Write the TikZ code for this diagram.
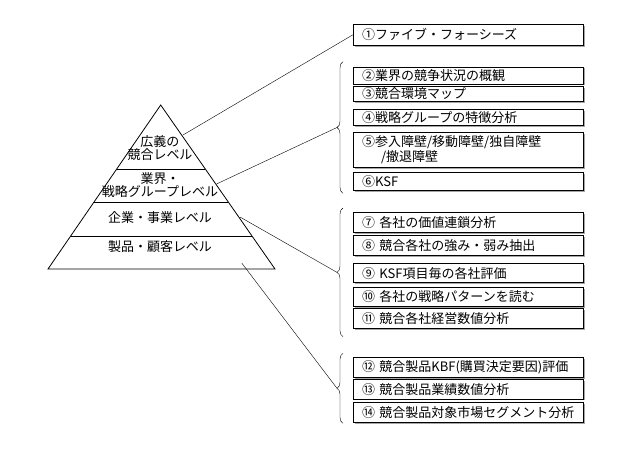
\documentclass[tikz,border=0pt]{standalone}
\usepackage{fontspec}
\setmainfont{Noto Sans CJK JP}
\usetikzlibrary{decorations.pathreplacing,shadows,calc}

\tikzset{
  item/.style={draw, line width=0.8pt, fill=white, anchor=north west,
    minimum width=230pt, text width=222pt, inner sep=0pt, align=left,
    font=\fontsize{13}{14.5}\selectfont,
    drop shadow={shadow xshift=1.5pt, shadow yshift=-1.5pt, fill=gray!70, opacity=1}},
  level/.style={font=\fontsize{13}{13.5}\selectfont, align=center, inner sep=0pt},
  grp/.style={decorate, decoration={brace, amplitude=6pt}, thin},
  link/.style={thin}
}

\begin{document}
\begin{tikzpicture}[x=1pt, y=-1pt]
				\useasboundingbox (0,0) rectangle (641,453);
				% pyramid
				\coordinate (apex) at (160.7,105);
				\coordinate (bl) at (48,269);
				\coordinate (br) at (275,269);
				\draw[line width=0.8pt] (apex) -- (bl) -- (br) -- cycle;
				\foreach \t in {0.39,0.593,0.799}
					\draw[line width=0.8pt] ($(apex)!\t!(bl)$) -- ($(apex)!\t!(br)$);
				\node[level] (lv1) at (160,148) {広義の\\競合レベル};
				\node[level] (lv2) at (160,185) {業界・\\戦略グループレベル};
				\node[level] (lv3) at (160,218) {企業・事業レベル};
				\node[level] (lv4) at (160,247) {製品・顧客レベル};
				% items
				\node[item, minimum height=21pt] (i1) at (352.7,24) {\hspace{5pt}①ファイブ・フォーシーズ};
				\node[item, minimum height=17pt] (i2) at (352.7,66.5) {\hspace{5pt}②業界の競争状況の概観};
				\node[item, minimum height=15.5pt] (i3) at (352.7,85.7) {\hspace{5pt}③競合環境マップ};
				\node[item, minimum height=16pt] (i4) at (352.7,109.3) {\hspace{5pt}④戦略グループの特徴分析};
				\node[item, minimum height=35pt] (i5) at (352.7,131.7) {\hspace{5pt}⑤参入障壁/移動障壁/独自障壁\\\hspace{24pt}/撤退障壁};
				\node[item, minimum height=17.5pt] (i6) at (352.7,172.3) {\hspace{5pt}⑥KSF};
				\node[item, minimum height=20pt] (i7) at (352.7,211.7) {\hspace{5pt}⑦ 各社の価値連鎖分析};
				\node[item, minimum height=20pt] (i8) at (352.7,235) {\hspace{5pt}⑧ 競合各社の強み・弱み抽出};
				\node[item, minimum height=19pt] (i9) at (352.7,263.3) {\hspace{5pt}⑨ KSF項目毎の各社評価};
				\node[item, minimum height=18.5pt] (i10) at (352.7,287.3) {\hspace{5pt}⑩ 各社の戦略パターンを読む};
				\node[item, minimum height=20pt] (i11) at (352.7,308.3) {\hspace{5pt}⑪ 競合各社経営数値分析};
				\node[item, minimum height=20pt] (i12) at (352.7,356.7) {\hspace{5pt}⑫ 競合製品KBF(購買決定要因)評価};
				\node[item, minimum height=19.5pt] (i13) at (352.7,379) {\hspace{5pt}⑬ 競合製品業績数値分析};
				\node[item, minimum height=20pt] (i14) at (352.7,401.7) {\hspace{5pt}⑭ 競合製品対象市場セグメント分析};
				% braces
				\draw[grp] (343,193.3) -- (343,61.7) coordinate[midway, xshift=-6pt] (b1);
				\draw[grp] (343,336.7) -- (343,208) coordinate[midway, xshift=-6pt] (b2);
				\draw[grp] (343,423.3) -- (343,353.3) coordinate[midway, xshift=-6pt] (b3);
				% connectors
				\coordinate (p1) at (183,135);
				\coordinate (p2) at (216.5,184);
				\coordinate (p3) at (240,217);
				\coordinate (p4) at (241.7,263);
				\draw[link] (p1) -- (i1.west);
				\draw[link] (p2) -- (b1);
				\draw[link] (p3) -- (b2);
				\draw[link] (p4) -- (b3);
\end{tikzpicture}
\end{document}
